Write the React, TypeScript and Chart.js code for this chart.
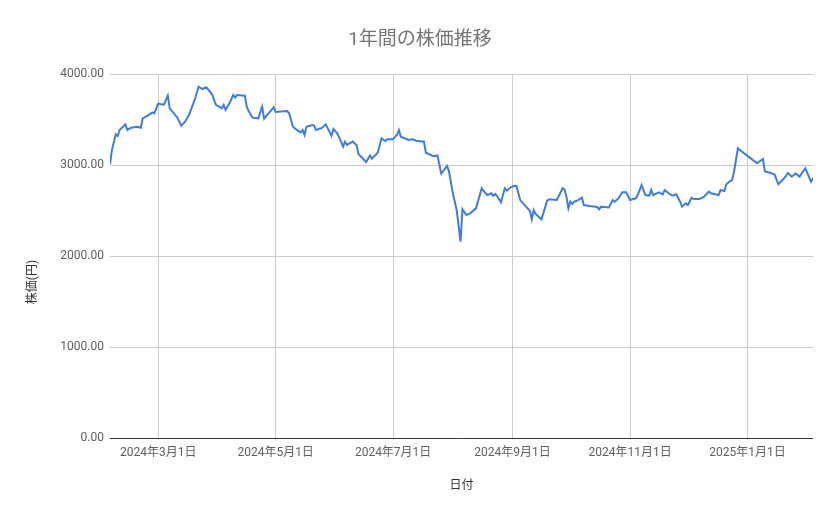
import { useEffect, useRef } from 'react';
import { Chart, registerables } from 'chart.js';

Chart.register(...registerables);

const chartTitle = '1年間の株価推移';
const xTitle = '日付';
const yTitle = '株価(円)';

const dates = [
  '2024-02-05','2024-02-06','2024-02-08','2024-02-09','2024-02-10','2024-02-13','2024-02-14','2024-02-16','2024-02-19','2024-02-21',
  '2024-02-22','2024-02-25','2024-02-27','2024-02-28','2024-03-01','2024-03-04','2024-03-06','2024-03-07','2024-03-11','2024-03-13',
  '2024-03-15','2024-03-17','2024-03-20','2024-03-22','2024-03-24','2024-03-26','2024-03-29','2024-03-31','2024-04-03','2024-04-04',
  '2024-04-05','2024-04-07','2024-04-09','2024-04-10','2024-04-11','2024-04-15','2024-04-16','2024-04-17','2024-04-19','2024-04-22',
  '2024-04-24','2024-04-25','2024-04-30','2024-05-01','2024-05-07','2024-05-08','2024-05-10','2024-05-12','2024-05-14','2024-05-15',
  '2024-05-16','2024-05-17','2024-05-20','2024-05-21','2024-05-22','2024-05-25','2024-05-27','2024-05-30','2024-05-31','2024-06-02',
  '2024-06-04','2024-06-05','2024-06-06','2024-06-07','2024-06-10','2024-06-12','2024-06-13','2024-06-17','2024-06-19','2024-06-20',
  '2024-06-23','2024-06-25','2024-06-27','2024-06-28','2024-07-01','2024-07-03','2024-07-04','2024-07-05','2024-07-09','2024-07-11',
  '2024-07-13','2024-07-17','2024-07-18','2024-07-22','2024-07-24','2024-07-26','2024-07-29','2024-07-30','2024-08-01','2024-08-03',
  '2024-08-05','2024-08-06','2024-08-08','2024-08-10','2024-08-13','2024-08-14','2024-08-16','2024-08-18','2024-08-19','2024-08-21',
  '2024-08-22','2024-08-23','2024-08-24','2024-08-26','2024-08-28','2024-08-29','2024-08-31','2024-09-02','2024-09-03','2024-09-05',
  '2024-09-08','2024-09-10','2024-09-11','2024-09-12','2024-09-13','2024-09-16','2024-09-19','2024-09-20','2024-09-24','2024-09-27',
  '2024-09-28','2024-09-29','2024-09-30','2024-10-01','2024-10-02','2024-10-03','2024-10-04','2024-10-05','2024-10-07','2024-10-08',
  '2024-10-11','2024-10-15','2024-10-16','2024-10-17','2024-10-21','2024-10-23','2024-10-24','2024-10-26','2024-10-28','2024-10-30',
  '2024-11-01','2024-11-04','2024-11-05','2024-11-07','2024-11-09','2024-11-11','2024-11-12','2024-11-13','2024-11-16','2024-11-18',
  '2024-11-19','2024-11-21','2024-11-23','2024-11-25','2024-11-27','2024-11-28','2024-11-30','2024-12-01','2024-12-03','2024-12-04',
  '2024-12-07','2024-12-09','2024-12-12','2024-12-13','2024-12-17','2024-12-18','2024-12-20','2024-12-21','2024-12-23','2024-12-24',
  '2024-12-25','2024-12-27','2024-12-28','2025-01-01','2025-01-06','2025-01-09','2025-01-10','2025-01-15','2025-01-17','2025-01-20',
  '2025-01-22','2025-01-24','2025-01-26','2025-01-28','2025-01-31','2025-02-03','2025-02-04',
];

const prices = [
  3008,3165,3337,3319,3385,3447,3385,3410,3421,3410,
  3513,3549,3578,3568,3674,3663,3762,3623,3520,3432,
  3476,3549,3718,3860,3835,3854,3777,3660,3623,3660,
  3604,3678,3769,3740,3769,3762,3641,3593,3520,3513,
  3641,3509,3634,3582,3593,3568,3421,3385,3359,3385,
  3330,3421,3440,3432,3385,3407,3447,3322,3396,3348,
  3256,3201,3256,3220,3258,3220,3121,3033,3104,3069,
  3135,3293,3264,3282,3282,3335,3385,3311,3275,3282,
  3267,3256,3135,3096,3104,2904,2990,2930,2689,2505,
  2157,2513,2451,2469,2524,2597,2744,2689,2670,2689,
  2659,2681,2659,2590,2744,2718,2755,2772,2769,2615,
  2542,2498,2403,2505,2462,2403,2608,2623,2615,2744,
  2730,2652,2524,2597,2571,2597,2604,2615,2641,2560,
  2549,2538,2513,2542,2533,2615,2597,2634,2700,2700,
  2615,2634,2670,2780,2670,2663,2725,2670,2700,2678,
  2725,2689,2663,2678,2597,2542,2579,2560,2641,2626,
  2626,2643,2707,2689,2670,2725,2714,2788,2824,2835,
  2926,3184,3165,3100,3019,3066,2931,2898,2788,2854,
  2912,2871,2909,2871,2964,2816,2857,
];

const tickDates = ['2024-03-01','2024-05-01','2024-07-01','2024-09-01','2024-11-01','2025-01-01'];
const tickLabels = ['2024年3月1日','2024年5月1日','2024年7月1日','2024年9月1日','2024年11月1日','2025年1月1日'];

const FONT = 'Roboto, "Noto Sans CJK JP", sans-serif';
const toDay = (s: string) => Date.parse(s + 'T00:00:00Z') / 86400000;

export default function App() {
  const ref = useRef<HTMLCanvasElement>(null);
  useEffect(() => {
    if (!ref.current) return;
    const points = dates.map((d, i) => ({ x: toDay(d), y: prices[i] }));
    const tickVals = tickDates.map(toDay);
    const titles = {
      id: 'titles',
      afterDraw(chart: any) {
        const ctx = chart.ctx;
        const a = chart.chartArea;
        ctx.save();
        ctx.textAlign = 'center';
        ctx.textBaseline = 'middle';
        ctx.fillStyle = '#757575';
        ctx.font = `19px ${FONT}`;
        ctx.fillText(chartTitle, 420, 40);
        ctx.fillStyle = '#333333';
        ctx.font = `12px ${FONT}`;
        ctx.fillText(xTitle, (a.left + a.right) / 2, 486);
        ctx.translate(33, 282);
        ctx.rotate(-Math.PI / 2);
        ctx.fillText(yTitle, 0, 0);
        ctx.restore();
      },
    };
    const chart = new Chart(ref.current, {
      type: 'line',
      data: {
        datasets: [
          {
            data: points,
            borderColor: '#3f7ddb',
            borderWidth: 2,
            pointRadius: 0,
            tension: 0,
            fill: false,
          },
        ],
      },
      options: {
        animation: false,
        responsive: false,
        maintainAspectRatio: false,
        layout: { padding: { left: 0, right: 26, top: 74, bottom: 0 } },
        plugins: { legend: { display: false }, tooltip: { enabled: false }, title: { display: false } },
        scales: {
          x: {
            type: 'linear',
            min: toDay(dates[0]),
            max: toDay(dates[dates.length - 1]),
            afterBuildTicks: (scale: any) => {
              scale.ticks = tickVals.map((v) => ({ value: v }));
            },
            afterFit: (scale: any) => {
              scale.height = 81;
            },
            grid: { color: '#cccccc', drawTicks: false, lineWidth: 1 },
            border: { display: false },
            ticks: {
              padding: 8,
              color: '#5f5f5f',
              font: { family: FONT, size: 12 },
              maxRotation: 0,
              autoSkip: false,
              callback: (v: any) => {
                const i = tickVals.indexOf(Number(v));
                return i >= 0 ? tickLabels[i] : '';
              },
            },
          },
          y: {
            min: 0,
            max: 4000,
            afterFit: (scale: any) => {
              scale.width = 110;
            },
            grid: {
              color: (c: any) => (c.tick && c.tick.value === 0 ? '#333333' : '#cccccc'),
              drawTicks: false,
              lineWidth: 1,
            },
            border: { display: false },
            ticks: {
              stepSize: 1000,
              padding: 6,
              color: '#5f5f5f',
              font: { family: FONT, size: 12 },
              callback: (v: any) => Number(v).toFixed(2),
            },
          },
        },
      },
      plugins: [titles],
    });
    return () => chart.destroy();
  }, []);
  return (
    <div style={{ position: 'absolute', left: 0, top: 0, width: 839, height: 519 }}>
      <canvas ref={ref} width={839} height={519} style={{ width: 839, height: 519 }} />
    </div>
  );
}
